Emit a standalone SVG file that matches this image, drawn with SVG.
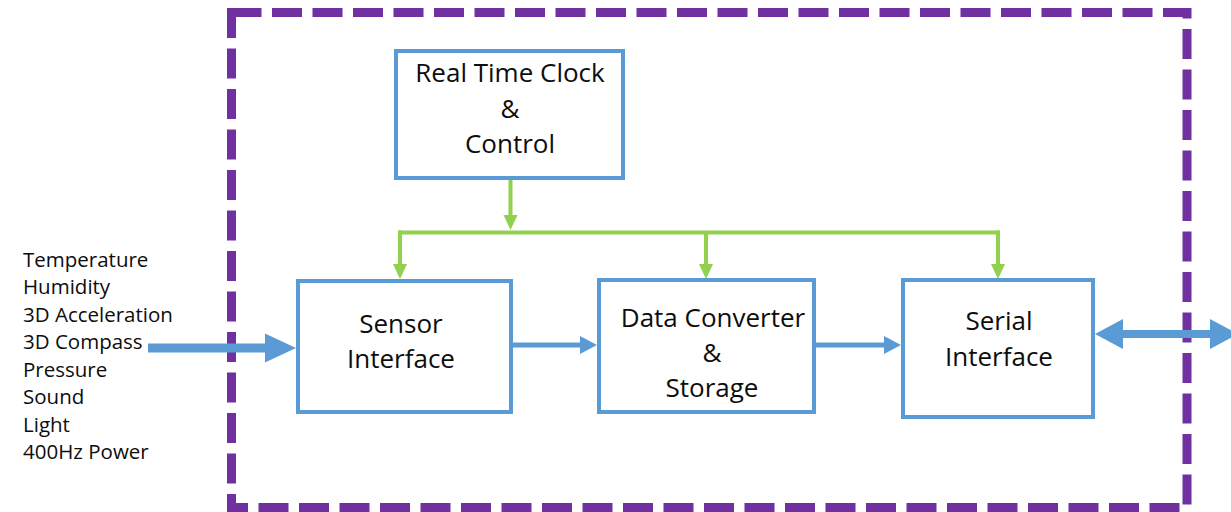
<svg xmlns="http://www.w3.org/2000/svg" width="1231" height="512" viewBox="0 0 1231 512">
  <style>
    .frame { fill: none; stroke: #7030A0; stroke-width: 9; stroke-dasharray: 30 10.5; }
    .box { fill: #FFFFFF; stroke: #5B9BD5; stroke-width: 4; }
    .lbl { font-family: "Open Sans", "Liberation Sans", sans-serif; font-size: 26px; fill: #0D0D0D; text-anchor: middle; }
    .list { font-family: "Open Sans", "Liberation Sans", sans-serif; font-size: 20.5px; fill: #0D0D0D; }
    .green { fill: none; stroke: #92D050; stroke-width: 4; }
    .blue5 { fill: none; stroke: #5B9BD5; stroke-width: 5; }
    .bluehead { fill: #5B9BD5; }
  </style>
  <defs>
    <marker id="gArrow" markerUnits="userSpaceOnUse" markerWidth="16" markerHeight="15" refX="0" refY="7" orient="auto" overflow="visible">
      <path d="M0,0 L15,7 L0,14 z" fill="#92D050"/>
    </marker>
    <marker id="bArrow" markerUnits="userSpaceOnUse" markerWidth="18" markerHeight="18" refX="0" refY="9" orient="auto" overflow="visible">
      <path d="M0,0 L17,9 L0,18 z" fill="#5B9BD5"/>
    </marker>
  </defs>

  <rect id="boundary" class="frame" x="231.5" y="12.5" width="955.5" height="495"/>

  <g id="connectors">
    <path class="green" d="M510.5,180 V215" marker-end="url(#gArrow)"/>
    <path class="green" d="M398,232.5 H1000"/>
    <path class="green" d="M400,230.5 V264" marker-end="url(#gArrow)"/>
    <path class="green" d="M706,232.5 V264" marker-end="url(#gArrow)"/>
    <path class="green" d="M998,230.5 V264" marker-end="url(#gArrow)"/>
    <path class="blue5" d="M513,345 H580" marker-end="url(#bArrow)"/>
    <path class="blue5" d="M816,345 H884" marker-end="url(#bArrow)"/>
    <g id="input-arrow">
      <rect class="bluehead" x="148" y="343.5" width="118" height="9"/>
      <polygon class="bluehead" points="265,333.5 296,348 265,362.5"/>
    </g>
    <g id="io-arrow">
      <rect class="bluehead" x="1122" y="330" width="89" height="8"/>
      <polygon class="bluehead" points="1123,319 1095,334 1123,349"/>
      <polygon class="bluehead" points="1210,319 1238,334 1210,349"/>
    </g>
  </g>

  <g id="rtc">
    <rect class="box" x="396" y="51" width="227" height="127"/>
    <text class="lbl" x="510" y="82">Real Time Clock</text>
    <text class="lbl" x="510" y="118">&amp;</text>
    <text class="lbl" x="510" y="153">Control</text>
  </g>

  <g id="sensor-interface">
    <rect class="box" x="298" y="281" width="213" height="131"/>
    <text class="lbl" x="401" y="333">Sensor</text>
    <text class="lbl" x="401" y="368">Interface</text>
  </g>

  <g id="data-converter">
    <rect class="box" x="599" y="280" width="215" height="132"/>
    <text class="lbl" x="713" y="327">Data Converter</text>
    <text class="lbl" x="712" y="362">&amp;</text>
    <text class="lbl" x="712" y="397">Storage</text>
  </g>

  <g id="serial-interface">
    <rect class="box" x="903" y="280" width="190" height="137"/>
    <text class="lbl" x="999" y="330">Serial</text>
    <text class="lbl" x="999" y="366">Interface</text>
  </g>

  <g id="inputs">
    <text class="list" x="23" y="266.5">Temperature</text>
    <text class="list" x="23" y="294">Humidity</text>
    <text class="list" x="23" y="321.5">3D Acceleration</text>
    <text class="list" x="23" y="349">3D Compass</text>
    <text class="list" x="23" y="376.5">Pressure</text>
    <text class="list" x="23" y="404">Sound</text>
    <text class="list" x="23" y="431.5">Light</text>
    <text class="list" x="23" y="459">400Hz Power</text>
  </g>
</svg>
